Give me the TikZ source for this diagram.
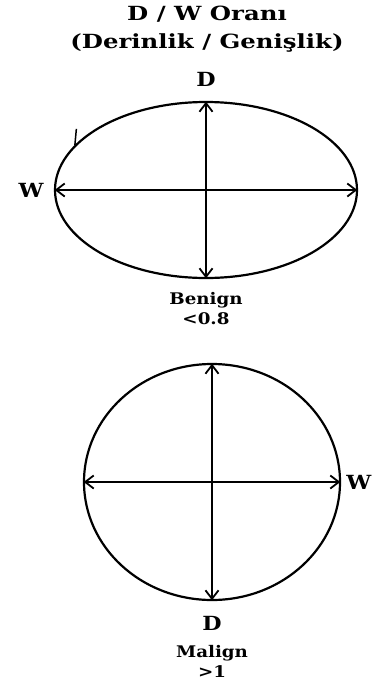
\documentclass[tikz,border=0pt]{standalone}
\usepackage{fontspec}
\setmainfont{DejaVu Serif}
\newfontfamily\widefont[FakeStretch=1.14]{DejaVu Serif}
\newfontfamily\headfont[FakeStretch=1.25]{DejaVu Serif}
\usetikzlibrary{shapes.geometric, arrows.meta, positioning}

\begin{document}
\begin{tikzpicture}[
    x=1pt, y=-1pt,
    title/.style={font=\headfont\bfseries\fontsize{19.5}{28}\selectfont, align=center, inner sep=0pt},
    axislbl/.style={font=\widefont\bfseries\fontsize{19.5}{24}\selectfont, inner sep=1pt},
    verdict/.style={font=\widefont\bfseries\fontsize{16}{20}\selectfont, align=center, inner sep=0pt},
    outline/.style={ellipse, draw, line width=2.2pt, inner sep=0pt},
    arrow/.style={{Straight Barb[length=3mm,width=4.6mm]}-{Straight Barb[length=3mm,width=4.6mm]},
                  line width=1.8pt, shorten <=0.8pt, shorten >=0.8pt},
  ]
  \useasboundingbox (0,0) rectangle (376,686);

  \node[title] (heading) at (207,29) {D / W Oranı\\(Derinlik / Genişlik)};

  % wide lesion
  \node[outline, minimum width=302pt, minimum height=176pt] (benign) at (206,190) {};
  \draw[arrow] (benign.north) -- (benign.south);
  \draw[arrow] (benign.west) -- (benign.east);
  \draw[line width=1.5pt] (benign.161) -- ++(1.5,-16);
  \node[axislbl, above=13pt of benign.north] (dtop) {D};
  \node[axislbl, left=9pt of benign.west] (wleft) {W};
  \node[verdict, below=13pt of benign.south] (bname) {Benign\\<0.8};

  % tall lesion
  \node[outline, minimum width=256pt, minimum height=236pt] (malign) at (212,482) {};
  \draw[arrow] (malign.north) -- (malign.south);
  \draw[arrow] (malign.west) -- (malign.east);
  \node[axislbl, right=4pt of malign.east] (wright) {W};
  \node[axislbl, below=14pt of malign.south] (dbot) {D};
  \node[verdict, below=13pt of dbot] (mname) {Malign\\>1};
\end{tikzpicture}
\end{document}
